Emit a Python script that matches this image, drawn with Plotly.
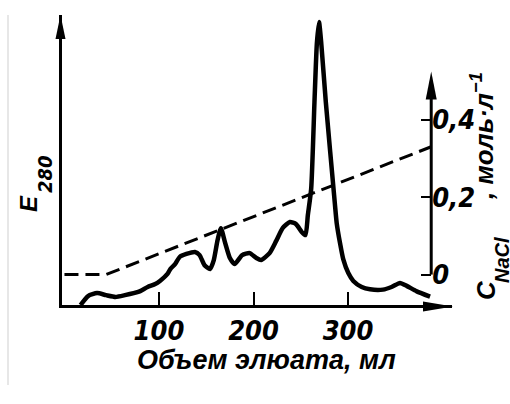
import plotly.graph_objects as go

# Elution profile: volume of eluate (ml) and absorbance at 280 nm
volume_ml = [17, 25, 34.5, 44, 54, 64, 78, 88, 96, 101, 109, 112, 117, 122, 129,
             138, 143, 148, 154, 158, 162, 165.5, 170, 175, 180, 188, 196, 203,
             208, 217, 224, 231, 238.5, 245, 251, 255, 257.5, 261, 264.5, 267,
             269.3, 271.5, 276.5, 286, 288, 291.5, 295, 300.3, 305.6, 314.5,
             323.3, 337, 346, 355, 362, 372.7, 386.8]
e280 = [0.0, 0.031, 0.041, 0.034, 0.028, 0.034, 0.045, 0.062, 0.072, 0.083, 0.107,
        0.124, 0.141, 0.166, 0.176, 0.183, 0.172, 0.138, 0.124, 0.155, 0.224,
        0.265, 0.214, 0.162, 0.141, 0.172, 0.179, 0.162, 0.155, 0.179, 0.221,
        0.266, 0.286, 0.279, 0.252, 0.241, 0.31, 0.40, 0.70, 0.90, 0.976, 0.91,
        0.70, 0.352, 0.283, 0.214, 0.157, 0.110, 0.083, 0.062, 0.054, 0.053,
        0.062, 0.076, 0.066, 0.047, 0.029]

# Linear NaCl gradient (mol/l)
gradient_ml = [0, 44, 388]
nacl_molar = [0.0, 0.0, 0.33]

x_ticks = [100, 200, 300]
c_ticks = [0, 0.2, 0.4]
c_tick_text = ["0", "0,2", "0,4"]

X_RANGE = [-2.6, 410]
E_RANGE = [0, 1]
C_RANGE = [-0.0785, 0.670]
C_AXIS_ML = 388
C_AXIS_TOP = 0.524

W, H = 510, 404
PL, PR, PT, PB = 62, 452, 15, 305


def fx(p):
    return (p - PL) / (PR - PL)


def fy(p):
    return (PB - p) / (PB - PT)


NARROW = "Liberation Sans Narrow, DejaVu Sans Condensed, Arial Narrow, sans-serif"
WIDE = "Liberation Sans, Arial, sans-serif"

fig = go.Figure()
fig.add_trace(go.Scatter(
    x=gradient_ml, y=nacl_molar, yaxis="y2", mode="lines",
    line=dict(color="black", width=3, dash="14px,7px"),
    hoverinfo="skip", showlegend=False))
fig.add_trace(go.Scatter(
    x=volume_ml, y=e280, mode="lines",
    line=dict(color="black", width=4.5, shape="spline", smoothing=0.55),
    showlegend=False))

arrow = dict(type="path", xsizemode="pixel", ysizemode="pixel",
             fillcolor="black", line=dict(width=0), layer="above")
shapes = [
    # right (NaCl) axis line
    dict(type="line", xref="x", yref="y2", x0=C_AXIS_ML, x1=C_AXIS_ML,
         y0=0, y1=C_AXIS_TOP - 0.03, line=dict(color="black", width=3)),
    dict(arrow, xref="x", yref="y2", xanchor=C_AXIS_ML, yanchor=C_AXIS_TOP,
         path="M0,0 L-5.5,-28 L5.5,-28 Z"),
    # arrowheads on the E280 and volume axes
    dict(arrow, xref="paper", yref="paper", xanchor=0, yanchor=1,
         path="M-1.5,0 L-6.5,-24 L3.5,-24 Z"),
    dict(arrow, xref="paper", yref="paper", xanchor=1, yanchor=0,
         path="M1,-1.5 L-29,3.5 L-29,-6.5 Z"),
    # faint page edge
    dict(type="line", xref="paper", yref="paper", x0=fx(8), x1=fx(8),
         y0=fy(15), y1=fy(385), line=dict(color="#cfcfcf", width=1)),
]

annotations = [
    dict(text="Объем элюата, мл", x=fx(266), y=fy(360),
         font=dict(family=WIDE, size=27, style="italic", weight="bold")),
    dict(text="E", x=fx(28), y=fy(204), textangle=-90,
         font=dict(family=WIDE, size=24, style="italic", weight="bold")),
    dict(text="280", x=fx(45), y=fy(174), textangle=-90,
         font=dict(family=NARROW, size=20, style="italic", weight="bold")),
    dict(text="C", x=fx(486), y=fy(290), textangle=-90,
         font=dict(family=WIDE, size=26, style="italic", weight="bold")),
    dict(text="NaCl", x=fx(502), y=fy(260), textangle=-90,
         font=dict(family=WIDE, size=20, style="italic", weight="bold")),
    dict(text=", моль·л<sup>−1</sup>", x=fx(482), y=fy(136), textangle=-90,
         font=dict(family=WIDE, size=26, style="italic", weight="bold")),
]
for a in annotations:
    a["font"]["color"] = "black"
    a.update(xref="paper", yref="paper", showarrow=False,
             xanchor="center", yanchor="middle")

tickfont = dict(family=NARROW, size=27, style="italic", weight="bold", color="black")

fig.update_layout(
    width=W, height=H, autosize=False,
    margin=dict(l=PL, r=W - PR, t=PT, b=H - PB),
    paper_bgcolor="white", plot_bgcolor="white",
    xaxis=dict(range=X_RANGE, showgrid=False, zeroline=False,
               showline=True, linecolor="black", linewidth=3,
               ticks="inside", ticklen=13, tickwidth=2, tickcolor="black",
               tickvals=x_ticks, tickfont=tickfont),
    yaxis=dict(range=E_RANGE, showgrid=False, zeroline=False,
               showline=True, linecolor="black", linewidth=3,
               showticklabels=False, ticks=""),
    yaxis2=dict(range=C_RANGE, overlaying="y", side="right", anchor="free",
                position=(C_AXIS_ML - X_RANGE[0]) / (X_RANGE[1] - X_RANGE[0]),
                showgrid=False, zeroline=False, showline=False,
                ticks="inside", ticklen=10, tickwidth=2, tickcolor="black",
                tickvals=c_ticks, ticktext=c_tick_text, tickfont=tickfont),
    shapes=shapes,
    annotations=annotations,
)

fig.write_html("out.html")
